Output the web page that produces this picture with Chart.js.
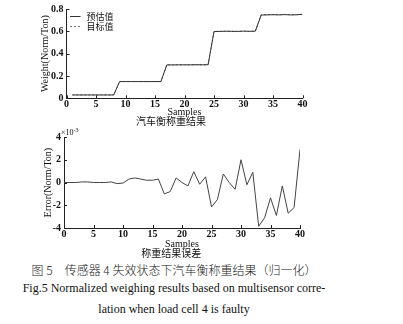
<!DOCTYPE html>
<html><head><meta charset="utf-8">
<script src="https://cdn.jsdelivr.net/npm/chart.js@4"></script>
<style>
html,body{margin:0;padding:0;background:#fff;width:403px;height:324px;overflow:hidden;}
canvas{position:absolute;left:0;}
.cap{position:absolute;left:0;width:348px;text-align:center;line-height:16px;font-size:12px;color:#111;white-space:nowrap;}
</style></head>
<body>
<canvas id="c1" width="403" height="128" style="top:0"></canvas>
<canvas id="c2" width="403" height="132" style="top:128px"></canvas>
<div class="cap" style="top:262px;font-family:'Noto Sans CJK SC',sans-serif;font-weight:300;color:#222;">图 5　传感器 4 失效状态下汽车衡称重结果（归一化）</div>
<div class="cap" style="top:279.5px;font-family:'Liberation Serif',serif;">Fig.5 Normalized weighing results based on multisensor corre-</div>
<div class="cap" style="top:301px;font-family:'Liberation Serif',serif;">lation when load cell 4 is faulty</div>
<script>
// ---- data ----
const weightSamples = [1,2,3,4,5,6,7,8,9,10,11,12,13,14,15,16,17,18,19,20,21,22,23,24,25,26,27,28,29,30,31,32,33,34,35,36,37,38,39,40];
const estimatedWeight = [0.030,0.030,0.030,0.030,0.030,0.030,0.030,0.030,
  0.150,0.150,0.150,0.150,0.150,0.150,0.150,0.150,
  0.299,0.299,0.300,0.300,0.300,0.301,0.300,0.301,
  0.598,0.599,0.601,0.600,0.599,0.602,0.600,0.601,
  0.746,0.747,0.749,0.747,0.750,0.747,0.748,0.753];
const targetWeight = [0.03,0.03,0.03,0.03,0.03,0.03,0.03,0.03,
  0.15,0.15,0.15,0.15,0.15,0.15,0.15,0.15,
  0.30,0.30,0.30,0.30,0.30,0.30,0.30,0.30,
  0.60,0.60,0.60,0.60,0.60,0.60,0.60,0.60,
  0.75,0.75,0.75,0.75,0.75,0.75,0.75,0.75];
const errorSamples = [0,1,2,3,4,5,6,7,8,9,10,11,12,13,14,15,16,17,18,19,20,21,22,23,24,25,26,27,28,29,30,31,32,33,34,35,36,37,38,39,40];
const errorE3 = [0,0,0,0.05,0.05,0,0,0,0.05,-0.1,-0.05,0.3,0.4,0.3,0.2,0.2,0.3,-1.0,-0.8,0.4,0,-0.3,0.95,-0.15,0.5,-2.15,-1.5,0.75,0,-0.6,2.0,-0.2,0.9,-3.85,-3.1,-1.35,-2.9,-0.3,-2.7,-2.2,2.9];
const legendLabels = ['预估值','目标值'];
const xTitle = 'Samples';
const topYTitle = 'Weight(Norm/Ton)';
const botYTitle = 'Error(Norm/Ton)';
const topTitle = '汽车衡称重结果';
const botTitle = '称重结果误差';

const FONT = "'Liberation Serif','Noto Sans CJK SC',serif";
Chart.defaults.font.family = FONT;
Chart.defaults.color = '#111';
Chart.defaults.animation = false;

const inwardTicks = {
  id:'inwardTicks',
  afterDraw(chart){
    const {ctx, chartArea:a, scales:{x,y}} = chart;
    ctx.save(); ctx.strokeStyle='#222'; ctx.lineWidth=1;
    x.ticks.forEach((t,i)=>{const p=Math.round(x.getPixelForTick(i))+0.5; ctx.beginPath(); ctx.moveTo(p,a.bottom); ctx.lineTo(p,a.bottom-3); ctx.stroke();});
    y.ticks.forEach((t,i)=>{const p=Math.round(y.getPixelForTick(i))+0.5; ctx.beginPath(); ctx.moveTo(a.left,p); ctx.lineTo(a.left+3,p); ctx.stroke();});
    ctx.restore();
  }
};
const innerLegend = {
  id:'innerLegend',
  afterDraw(chart, args, opts){
    if(!opts.show) return;
    const {ctx, chartArea:a} = chart;
    ctx.save();
    ctx.font = "9px 'Noto Sans CJK SC',sans-serif";
    ctx.textBaseline='middle'; ctx.fillStyle='#111';
    chart.data.datasets.forEach((ds,i)=>{
      const yy = a.top + 7.2 + i*10;
      ctx.strokeStyle = ds.borderColor; ctx.lineWidth=1; ctx.setLineDash(ds.borderDash||[]);
      ctx.beginPath(); ctx.moveTo(a.left+3.5, Math.round(yy)+0.5); ctx.lineTo(a.left+14, Math.round(yy)+0.5); ctx.stroke();
      ctx.setLineDash([]);
      ctx.fillText(ds.label, a.left+20, yy);
    });
    ctx.restore();
  }
};
const expLabel = {
  id:'expLabel',
  afterDraw(chart, args, opts){
    if(!opts.show) return;
    const {ctx, chartArea:a} = chart;
    ctx.save(); ctx.fillStyle='#111'; ctx.textBaseline='alphabetic';
    ctx.font = "8px "+FONT;
    ctx.fillText('×10', a.left-3, a.top-2.5);
    const w = ctx.measureText('×10').width;
    ctx.font = "6px "+FONT;
    ctx.fillText('-3', a.left-3+w, a.top-5.5);
    ctx.restore();
  }
};

function axisX(h){
  return {type:'linear', min:0, max:40,
    ticks:{stepSize:5, padding:0, font:{size:10, weight:'bold'}, maxRotation:0},
    grid:{display:true, drawOnChartArea:false, drawTicks:false},
    border:{display:true, color:'#222', width:1},
    title:{display:true, text:xTitle, font:{size:10, lineHeight:1}, padding:{top:0,bottom:0}},
    afterFit(s){ s.height = h; }};
}
function axisY(min,max,step,title,w){
  return {type:'linear', min, max,
    ticks:{stepSize:step, padding:3, font:{size:10, weight:'bold'}},
    grid:{display:true, drawOnChartArea:false, drawTicks:false},
    border:{display:true, color:'#222', width:1},
    title:{display:true, text:title, font:{size:10, lineHeight:1.2}, padding:0},
    afterFit(s){ s.width = w; }};
}

new Chart(document.getElementById('c1'), {
  type:'line',
  data:{datasets:[
    {label:legendLabels[0], data:weightSamples.map((s,i)=>({x:s,y:estimatedWeight[i]})), borderColor:'#333', borderWidth:1, pointRadius:0, tension:0},
    {label:legendLabels[1], data:weightSamples.map((s,i)=>({x:s,y:targetWeight[i]})), borderColor:'#777', borderWidth:1, borderDash:[2,2], pointRadius:0, tension:0}
  ]},
  options:{responsive:false, maintainAspectRatio:false,
    layout:{padding:{top:4.5,right:100.5,left:39.5,bottom:0}},
    scales:{x:axisX(18.7), y:axisY(0,0.8,0.2,topYTitle,27)},
    plugins:{legend:{display:false}, tooltip:{enabled:false},
      title:{display:true, position:'bottom', text:topTitle, font:{size:10, lineHeight:1, weight:'normal'}, padding:{top:0,bottom:1}, color:'#111'},
      innerLegend:{show:true}, expLabel:{show:false}}
  },
  plugins:[inwardTicks, innerLegend, expLabel]
});

new Chart(document.getElementById('c2'), {
  type:'line',
  data:{datasets:[
    {label:'error', data:errorSamples.map((s,i)=>({x:s,y:errorE3[i]})), borderColor:'#444', borderWidth:1, pointRadius:0, tension:0}
  ]},
  options:{responsive:false, maintainAspectRatio:false,
    layout:{padding:{top:8.5,right:103,left:42.5,bottom:0}},
    scales:{x:axisX(21), y:axisY(-4,4,2,botYTitle,21.5)},
    plugins:{legend:{display:false}, tooltip:{enabled:false},
      title:{display:true, position:'bottom', text:botTitle, font:{size:10, lineHeight:1, weight:'normal'}, padding:{top:0,bottom:1}, color:'#111'},
      innerLegend:{show:false}, expLabel:{show:true}}
  },
  plugins:[inwardTicks, innerLegend, expLabel]
});
</script>
</body></html>
